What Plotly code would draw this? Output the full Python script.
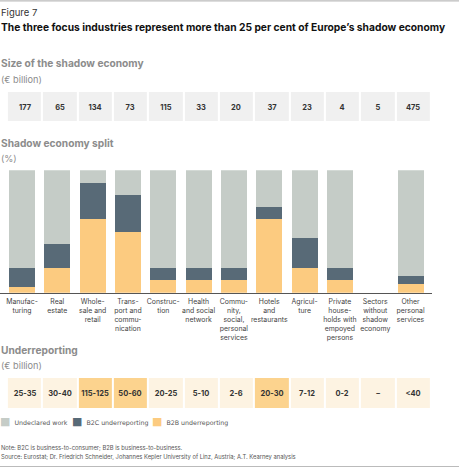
import plotly.graph_objects as go

# -----------------------
# Data
# -----------------------
sectors = [
    "Manufac-<br>turing", "Real<br>estate", "Whole-<br>sale and<br>retail",
    "Trans-<br>port and<br>commu-<br>nication", "Construc-<br>tion",
    "Health<br>and social<br>network", "Commu-<br>nity,<br>social,<br>personal<br>services",
    "Hotels<br>and<br>restaurants", "Agricul-<br>ture",
    "Private<br>house-<br>holds with<br>empoyed<br>persons",
    "Sectors<br>without<br>shadow<br>economy", "Other<br>personal<br>services",
]
size_bn = [177, 65, 134, 73, 115, 33, 20, 37, 23, 4, 5, 475]
b2b = [5, 20, 60, 50, 10, 10, 10, 60, 20, 10, 0, 7]
b2c = [15, 20, 30, 30, 10, 10, 10, 10, 25, 10, 0, 7]
undeclared = [80, 60, 10, 20, 80, 80, 80, 30, 55, 80, 0, 86]
underreporting = ["25-35", "30-40", "115-125", "50-60", "20-25", "5-10",
                  "2-6", "20-30", "7-12", "0-2", "–", "<40"]
focus = [0, 0, 1, 1, 0, 0, 0, 1, 0, 0, 0, 0]

W, H = 459, 468
FONT = "Inter"
C_UW, C_B2C, C_B2B = "#c5ccc7", "#586a77", "#fccb80"

idx = list(range(len(sectors)))


def py(px):
    return 1 - px / H


fig = go.Figure()

# size of shadow economy boxes
fig.add_trace(go.Heatmap(
    z=[size_bn], x=idx, y=[0], xaxis="x", yaxis="y",
    colorscale=[[0, "#f0f0f0"], [1, "#f0f0f0"]], showscale=False,
    xgap=2, text=[[str(v) for v in size_bn]],
    texttemplate="<b>%{text}</b>",
    textfont=dict(family=FONT, size=7.5, color="#333333"),
    hoverinfo="skip",
))

# underreporting boxes
fig.add_trace(go.Heatmap(
    z=[focus], x=idx, y=[0], xaxis="x", yaxis="y3",
    colorscale=[[0, "#fdf3e2"], [1, "#fcd38e"]], zmin=0, zmax=1,
    showscale=False, xgap=2, text=[underreporting],
    texttemplate="<b>%{text}</b>",
    textfont=dict(family=FONT, size=7.5, color="#333333"),
    hoverinfo="skip",
))

# stacked split bars
for name, vals, col in [("B2B underreporting", b2b, C_B2B),
                        ("B2C underreporting", b2c, C_B2C),
                        ("Undeclared work", undeclared, C_UW)]:
    fig.add_trace(go.Bar(
        x=idx, y=vals, name=name, marker=dict(color=col, line=dict(width=0)),
        width=0.736, xaxis="x2", yaxis="y2", showlegend=False,
    ))

step = 35.32
fig.update_layout(
    width=W, height=H,
    margin=dict(l=0, r=0, t=0, b=0),
    paper_bgcolor="white", plot_bgcolor="white",
    barmode="stack",
    font=dict(family=FONT, color="#333333"),
    xaxis=dict(domain=[0, 1], range=[-24.5 / step, (W - 24.5) / step],
               visible=False, fixedrange=True),
    xaxis2=dict(domain=[0, 432 / W], range=[-22 / step, (432 - 22) / step],
                anchor="y2", showline=True, linecolor="#555555", linewidth=1.3,
                tickvals=idx, ticktext=sectors, ticks="outside", ticklen=2,
                tickcolor="rgba(0,0,0,0)", showgrid=False, zeroline=False,
                tickfont=dict(family=FONT, size=6.9, color="#444444"),
                fixedrange=True),
    yaxis=dict(domain=[py(121), py(92)], visible=False, fixedrange=True),
    yaxis2=dict(domain=[py(292.7), py(170.3)], range=[0, 100], anchor="x2",
                visible=False, fixedrange=True),
    yaxis3=dict(domain=[py(408), py(378)], anchor="x", visible=False,
                fixedrange=True),
    showlegend=False,
)

texts = [
    ("Figure 7", 12.5, 9.5, "#333333", False),
    ("The three focus industries represent more than 25 per cent of Europe’s shadow economy",
     27, 10.25, "#111111", True),
    ("Size of the shadow economy", 63.5, 10.2, "#8c8c8c", True),
    ("(€ billion)", 79, 9.2, "#8c8c8c", False),
    ("Shadow economy split", 143.5, 10.2, "#8c8c8c", True),
    ("(%)", 158, 9.2, "#8c8c8c", False),
    ("Underreporting", 350, 10.2, "#8c8c8c", True),
    ("(€ billion)", 365, 9.2, "#8c8c8c", False),
    ("Note: B2C is business-to-consumer; B2B is business-to-business.", 447.7, 5.8, "#555555", False),
    ("Source: Eurostat; Dr. Friedrich Schneider, Johannes Kepler University of Linz, Austria; A.T. Kearney analysis",
     457.3, 5.8, "#555555", False),
]
for t, y, s, c, b in texts:
    fig.add_annotation(
        text=f"<b>{t}</b>" if b else t, xref="paper", yref="paper",
        x=0, y=py(y), xanchor="left", yanchor="middle", showarrow=False,
        font=dict(family=FONT, size=s, color=c), xshift=-1,
    )

# legend: coloured squares + labels
legend_items = [("Undeclared work", C_UW, 0), ("B2C underreporting", C_B2C, 72),
                ("B2B underreporting", C_B2B, 152)]
for label, col, xpx in legend_items:
    fig.add_annotation(
        text=f'<span style="color:{col};font-size:11px">■</span>  {label}',
        xref="paper", yref="paper", x=xpx / W, y=py(421.7),
        xanchor="left", yanchor="middle", showarrow=False, xshift=-2,
        font=dict(family="DejaVu Sans", size=6.3, color="#555555"),
    )

# frame lines top and bottom
fig.add_shape(type="line", xref="paper", yref="paper", x0=0, x1=1,
              y0=py(0.8), y1=py(0.8), line=dict(color="#bbbbbb", width=1.2))
fig.add_shape(type="line", xref="paper", yref="paper", x0=0, x1=1,
              y0=py(466.5), y1=py(466.5), line=dict(color="#bbbbbb", width=1.2))

fig.write_html("out.html", config={"displayModeBar": False},
               post_script="document.body.style.margin='0';")
